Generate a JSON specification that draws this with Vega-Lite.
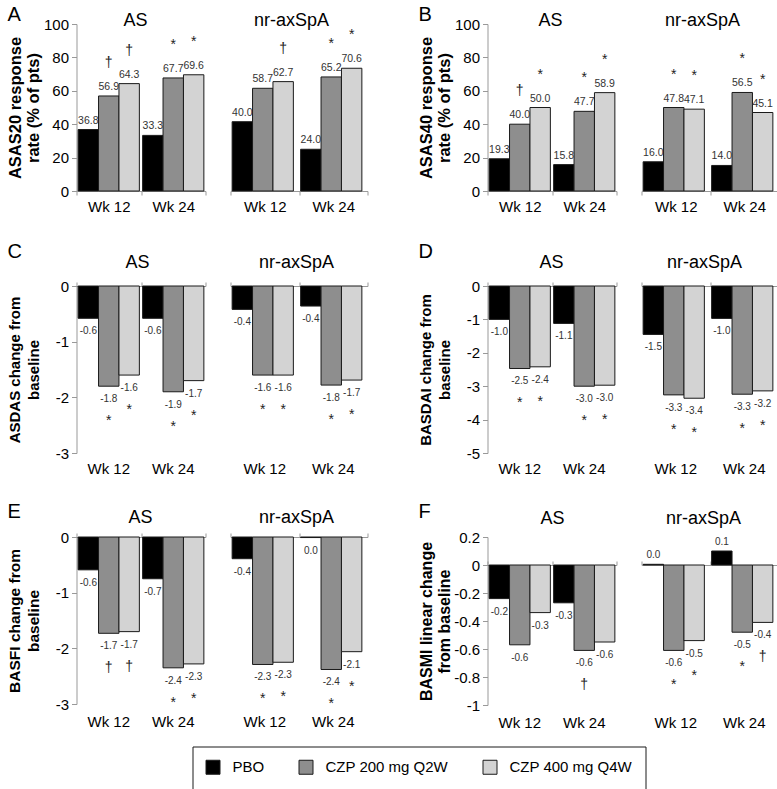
{
"$schema": "https://vega.github.io/schema/vega-lite/v6.json",
"padding": {"left": 7.5, "top": 4, "right": 0, "bottom": 0},
"config": {"font": "Liberation Sans", "view": {"stroke": null}, "axis": {"grid": false}},
"datasets": {"d": [
{"p":"A","g":"AS","w":"Wk 12","t":"PBO","v":36.8,"l":"36.8","s":""},
{"p":"A","g":"AS","w":"Wk 12","t":"CZP 200 mg Q2W","v":56.9,"l":"56.9","s":"\u2020"},
{"p":"A","g":"AS","w":"Wk 12","t":"CZP 400 mg Q4W","v":64.3,"l":"64.3","s":"\u2020"},
{"p":"A","g":"AS","w":"Wk 24","t":"PBO","v":33.3,"l":"33.3","s":""},
{"p":"A","g":"AS","w":"Wk 24","t":"CZP 200 mg Q2W","v":67.7,"l":"67.7","s":"*"},
{"p":"A","g":"AS","w":"Wk 24","t":"CZP 400 mg Q4W","v":69.6,"l":"69.6","s":"*"},
{"p":"A","g":"nr","w":"Wk 12","t":"PBO","v":41.5,"l":"40.0","s":""},
{"p":"A","g":"nr","w":"Wk 12","t":"CZP 200 mg Q2W","v":61.5,"l":"58.7","s":""},
{"p":"A","g":"nr","w":"Wk 12","t":"CZP 400 mg Q4W","v":65.5,"l":"62.7","s":"\u2020"},
{"p":"A","g":"nr","w":"Wk 24","t":"PBO","v":25.0,"l":"24.0","s":""},
{"p":"A","g":"nr","w":"Wk 24","t":"CZP 200 mg Q2W","v":68.3,"l":"65.2","s":"*"},
{"p":"A","g":"nr","w":"Wk 24","t":"CZP 400 mg Q4W","v":73.5,"l":"70.6","s":"*"},
{"p":"B","g":"AS","w":"Wk 12","t":"PBO","v":19.3,"l":"19.3","s":""},
{"p":"B","g":"AS","w":"Wk 12","t":"CZP 200 mg Q2W","v":40.0,"l":"40.0","s":"\u2020"},
{"p":"B","g":"AS","w":"Wk 12","t":"CZP 400 mg Q4W","v":50.0,"l":"50.0","s":"*"},
{"p":"B","g":"AS","w":"Wk 24","t":"PBO","v":15.8,"l":"15.8","s":""},
{"p":"B","g":"AS","w":"Wk 24","t":"CZP 200 mg Q2W","v":47.7,"l":"47.7","s":"*"},
{"p":"B","g":"AS","w":"Wk 24","t":"CZP 400 mg Q4W","v":58.9,"l":"58.9","s":"*"},
{"p":"B","g":"nr","w":"Wk 12","t":"PBO","v":17.5,"l":"16.0","s":""},
{"p":"B","g":"nr","w":"Wk 12","t":"CZP 200 mg Q2W","v":50.0,"l":"47.8","s":"*"},
{"p":"B","g":"nr","w":"Wk 12","t":"CZP 400 mg Q4W","v":49.0,"l":"47.1","s":"*"},
{"p":"B","g":"nr","w":"Wk 24","t":"PBO","v":15.3,"l":"14.0","s":""},
{"p":"B","g":"nr","w":"Wk 24","t":"CZP 200 mg Q2W","v":59.0,"l":"56.5","s":"*"},
{"p":"B","g":"nr","w":"Wk 24","t":"CZP 400 mg Q4W","v":47.0,"l":"45.1","s":"*"},
{"p":"C","g":"AS","w":"Wk 12","t":"PBO","v":-0.58,"l":"-0.6","s":""},
{"p":"C","g":"AS","w":"Wk 12","t":"CZP 200 mg Q2W","v":-1.8,"l":"-1.8","s":"*"},
{"p":"C","g":"AS","w":"Wk 12","t":"CZP 400 mg Q4W","v":-1.6,"l":"-1.6","s":"*"},
{"p":"C","g":"AS","w":"Wk 24","t":"PBO","v":-0.58,"l":"-0.6","s":""},
{"p":"C","g":"AS","w":"Wk 24","t":"CZP 200 mg Q2W","v":-1.9,"l":"-1.9","s":"*"},
{"p":"C","g":"AS","w":"Wk 24","t":"CZP 400 mg Q4W","v":-1.7,"l":"-1.7","s":"*"},
{"p":"C","g":"nr","w":"Wk 12","t":"PBO","v":-0.42,"l":"-0.4","s":""},
{"p":"C","g":"nr","w":"Wk 12","t":"CZP 200 mg Q2W","v":-1.6,"l":"-1.6","s":"*"},
{"p":"C","g":"nr","w":"Wk 12","t":"CZP 400 mg Q4W","v":-1.6,"l":"-1.6","s":"*"},
{"p":"C","g":"nr","w":"Wk 24","t":"PBO","v":-0.36,"l":"-0.4","s":""},
{"p":"C","g":"nr","w":"Wk 24","t":"CZP 200 mg Q2W","v":-1.78,"l":"-1.8","s":"*"},
{"p":"C","g":"nr","w":"Wk 24","t":"CZP 400 mg Q4W","v":-1.69,"l":"-1.7","s":"*"},
{"p":"D","g":"AS","w":"Wk 12","t":"PBO","v":-1.0,"l":"-1.0","s":""},
{"p":"D","g":"AS","w":"Wk 12","t":"CZP 200 mg Q2W","v":-2.47,"l":"-2.5","s":"*"},
{"p":"D","g":"AS","w":"Wk 12","t":"CZP 400 mg Q4W","v":-2.42,"l":"-2.4","s":"*"},
{"p":"D","g":"AS","w":"Wk 24","t":"PBO","v":-1.12,"l":"-1.1","s":""},
{"p":"D","g":"AS","w":"Wk 24","t":"CZP 200 mg Q2W","v":-3.0,"l":"-3.0","s":"*"},
{"p":"D","g":"AS","w":"Wk 24","t":"CZP 400 mg Q4W","v":-2.97,"l":"-3.0","s":"*"},
{"p":"D","g":"nr","w":"Wk 12","t":"PBO","v":-1.45,"l":"-1.5","s":""},
{"p":"D","g":"nr","w":"Wk 12","t":"CZP 200 mg Q2W","v":-3.26,"l":"-3.3","s":"*"},
{"p":"D","g":"nr","w":"Wk 12","t":"CZP 400 mg Q4W","v":-3.36,"l":"-3.4","s":"*"},
{"p":"D","g":"nr","w":"Wk 24","t":"PBO","v":-0.97,"l":"-1.0","s":""},
{"p":"D","g":"nr","w":"Wk 24","t":"CZP 200 mg Q2W","v":-3.24,"l":"-3.3","s":"*"},
{"p":"D","g":"nr","w":"Wk 24","t":"CZP 400 mg Q4W","v":-3.14,"l":"-3.2","s":"*"},
{"p":"E","g":"AS","w":"Wk 12","t":"PBO","v":-0.59,"l":"-0.6","s":""},
{"p":"E","g":"AS","w":"Wk 12","t":"CZP 200 mg Q2W","v":-1.73,"l":"-1.7","s":"\u2020"},
{"p":"E","g":"AS","w":"Wk 12","t":"CZP 400 mg Q4W","v":-1.7,"l":"-1.7","s":"\u2020"},
{"p":"E","g":"AS","w":"Wk 24","t":"PBO","v":-0.75,"l":"-0.7","s":""},
{"p":"E","g":"AS","w":"Wk 24","t":"CZP 200 mg Q2W","v":-2.35,"l":"-2.4","s":"*"},
{"p":"E","g":"AS","w":"Wk 24","t":"CZP 400 mg Q4W","v":-2.28,"l":"-2.3","s":"*"},
{"p":"E","g":"nr","w":"Wk 12","t":"PBO","v":-0.39,"l":"-0.4","s":""},
{"p":"E","g":"nr","w":"Wk 12","t":"CZP 200 mg Q2W","v":-2.29,"l":"-2.3","s":"*"},
{"p":"E","g":"nr","w":"Wk 12","t":"CZP 400 mg Q4W","v":-2.25,"l":"-2.3","s":"*"},
{"p":"E","g":"nr","w":"Wk 24","t":"PBO","v":-0.01,"l":"0.0","s":""},
{"p":"E","g":"nr","w":"Wk 24","t":"CZP 200 mg Q2W","v":-2.38,"l":"-2.4","s":"*"},
{"p":"E","g":"nr","w":"Wk 24","t":"CZP 400 mg Q4W","v":-2.06,"l":"-2.1","s":"*"},
{"p":"F","g":"AS","w":"Wk 12","t":"PBO","v":-0.24,"l":"-0.2","s":""},
{"p":"F","g":"AS","w":"Wk 12","t":"CZP 200 mg Q2W","v":-0.57,"l":"-0.6","s":""},
{"p":"F","g":"AS","w":"Wk 12","t":"CZP 400 mg Q4W","v":-0.34,"l":"-0.3","s":""},
{"p":"F","g":"AS","w":"Wk 24","t":"PBO","v":-0.27,"l":"-0.3","s":""},
{"p":"F","g":"AS","w":"Wk 24","t":"CZP 200 mg Q2W","v":-0.61,"l":"-0.6","s":"\u2020"},
{"p":"F","g":"AS","w":"Wk 24","t":"CZP 400 mg Q4W","v":-0.55,"l":"-0.6","s":""},
{"p":"F","g":"nr","w":"Wk 12","t":"PBO","v":0.005,"l":"0.0","s":""},
{"p":"F","g":"nr","w":"Wk 12","t":"CZP 200 mg Q2W","v":-0.61,"l":"-0.6","s":"*"},
{"p":"F","g":"nr","w":"Wk 12","t":"CZP 400 mg Q4W","v":-0.54,"l":"-0.5","s":"*"},
{"p":"F","g":"nr","w":"Wk 24","t":"PBO","v":0.1,"l":"0.1","s":""},
{"p":"F","g":"nr","w":"Wk 24","t":"CZP 200 mg Q2W","v":-0.48,"l":"-0.5","s":"*"},
{"p":"F","g":"nr","w":"Wk 24","t":"CZP 400 mg Q4W","v":-0.41,"l":"-0.4","s":"\u2020"}
]},
"data": {"name": "d"},
"spacing": 19,
"vconcat": [
{"spacing": 50, "hconcat": [
 {"spacing": 23, "hconcat": [
  {"width": 129, "height": 167,
   "title": {"text": "A", "anchor": "start", "frame": "bounds", "baseline": "alphabetic", "offset": -29, "fontSize": 20, "fontWeight": "normal"},
   "transform": [{"filter": "datum.p=='A' && datum.g=='AS'"}],
   "encoding": {
    "xOffset": {"field": "t", "type": "nominal", "sort": ["PBO","CZP 200 mg Q2W","CZP 400 mg Q4W"], "scale": {"paddingInner": 0, "paddingOuter": 0.08}},
    "y": {"field": "v", "type": "quantitative", "scale": {"domain": [0, 100], "nice": false}, "axis": {"title": ["ASAS20 response", "rate (% of pts)"], "values": [0,20,40,60,80,100], "tickSize": 5, "labelPadding": 3, "labelFontSize": 15, "labelColor": "#000", "domainColor": "#999", "tickColor": "#999", "minExtent": 34, "titlePadding": 1, "titleFontSize": 16.5, "titleFontWeight": "bold", "titleLineHeight": 18, "titleColor": "#000"}}
   },
   "layer": [
    {"mark": {"type": "bar", "stroke": "#1a1a1a", "strokeWidth": 1}, "encoding": {"x": {"field": "w", "type": "nominal", "sort": ["Wk 12","Wk 24"], "scale": {"paddingInner": 0, "paddingOuter": 0}, "axis": {"orient": "bottom", "title": null, "labelAngle": 0, "tickBand": "extent", "tickSize": 4, "labelPadding": 4.5, "minExtent": 30.5, "domainColor": "#999", "tickColor": "#999", "labelFontSize": 15, "labelColor": "#000"}}, "fill": {"field": "t", "type": "nominal", "sort": ["PBO","CZP 200 mg Q2W","CZP 400 mg Q4W"], "scale": {"domain": ["PBO","CZP 200 mg Q2W","CZP 400 mg Q4W"], "range": ["#000000","#8e8e8e","#d3d3d3"]}, "legend": {"orient": "none", "legendX": 116, "legendY": 722.5, "direction": "horizontal", "title": null, "symbolType": "square", "symbolSize": 196, "symbolStrokeColor": "#1a1a1a", "symbolStrokeWidth": 1, "symbolOpacity": 1, "labelFontSize": 15, "labelOffset": 12, "columnPadding": 32, "padding": 13, "strokeColor": "#1a1a1a", "fillColor": "#ffffff", "labelColor": "#000"}}}},
    {"transform": [{"filter": "datum.v >= 0"}], "mark": {"type": "text", "baseline": "alphabetic", "dy": -6, "fontSize": 10.5, "color": "#333"}, "encoding": {"x": {"field": "w", "type": "nominal", "sort": ["Wk 12","Wk 24"], "axis": {"orient": "top", "title": "AS", "labels": false, "ticks": false, "domain": false, "titleFontSize": 18, "titleFontWeight": "normal", "titleColor": "#000", "titleBaseline": "alphabetic", "titleX": 58.5, "titleY": 1.5}}, "text": {"field": "l", "type": "nominal"}}},
    {"transform": [{"filter": "datum.v >= 0 && datum.s != ''"}], "mark": {"type": "text", "baseline": "middle", "dy": -33, "fontSize": 14, "color": "#222"}, "encoding": {"x": {"field": "w", "type": "nominal", "sort": ["Wk 12","Wk 24"], "axis": null}, "text": {"field": "s", "type": "nominal"}}}
   ],
   "resolve": {"axis": {"x": "independent"}}
  },
  {"width": 137, "height": 167,
   "transform": [{"filter": "datum.p=='A' && datum.g=='nr'"}],
   "encoding": {
    "xOffset": {"field": "t", "type": "nominal", "sort": ["PBO","CZP 200 mg Q2W","CZP 400 mg Q4W"], "scale": {"paddingInner": 0, "paddingOuter": 0.12}},
    "y": {"field": "v", "type": "quantitative", "scale": {"domain": [0, 100], "nice": false}, "axis": null}
   },
   "layer": [
    {"mark": {"type": "bar", "stroke": "#1a1a1a", "strokeWidth": 1}, "encoding": {"x": {"field": "w", "type": "nominal", "sort": ["Wk 12","Wk 24"], "scale": {"paddingInner": 0, "paddingOuter": 0}, "axis": {"orient": "bottom", "title": null, "labelAngle": 0, "tickBand": "extent", "tickSize": 4, "labelPadding": 4.5, "minExtent": 30.5, "domainColor": "#999", "tickColor": "#999", "labelFontSize": 15, "labelColor": "#000"}}, "fill": {"field": "t", "type": "nominal", "sort": ["PBO","CZP 200 mg Q2W","CZP 400 mg Q4W"], "scale": {"domain": ["PBO","CZP 200 mg Q2W","CZP 400 mg Q4W"], "range": ["#000000","#8e8e8e","#d3d3d3"]}, "legend": {"orient": "none", "legendX": 116, "legendY": 722.5, "direction": "horizontal", "title": null, "symbolType": "square", "symbolSize": 196, "symbolStrokeColor": "#1a1a1a", "symbolStrokeWidth": 1, "symbolOpacity": 1, "labelFontSize": 15, "labelOffset": 12, "columnPadding": 32, "padding": 13, "strokeColor": "#1a1a1a", "fillColor": "#ffffff", "labelColor": "#000"}}}},
    {"transform": [{"filter": "datum.v >= 0"}], "mark": {"type": "text", "baseline": "alphabetic", "dy": -6, "fontSize": 10.5, "color": "#333"}, "encoding": {"x": {"field": "w", "type": "nominal", "sort": ["Wk 12","Wk 24"], "axis": {"orient": "top", "title": "nr-axSpA", "labels": false, "ticks": false, "domain": false, "titleFontSize": 18, "titleFontWeight": "normal", "titleColor": "#000", "titleBaseline": "alphabetic", "titleX": 60.5, "titleY": 1.5}}, "text": {"field": "l", "type": "nominal"}}},
    {"transform": [{"filter": "datum.v >= 0 && datum.s != ''"}], "mark": {"type": "text", "baseline": "middle", "dy": -33, "fontSize": 14, "color": "#222"}, "encoding": {"x": {"field": "w", "type": "nominal", "sort": ["Wk 12","Wk 24"], "axis": null}, "text": {"field": "s", "type": "nominal"}}}
   ],
   "resolve": {"axis": {"x": "independent"}}
  }
 ]},
 {"spacing": 23, "hconcat": [
  {"width": 129, "height": 167,
   "title": {"text": "B", "anchor": "start", "frame": "bounds", "baseline": "alphabetic", "offset": -29, "fontSize": 20, "fontWeight": "normal"},
   "transform": [{"filter": "datum.p=='B' && datum.g=='AS'"}],
   "encoding": {
    "xOffset": {"field": "t", "type": "nominal", "sort": ["PBO","CZP 200 mg Q2W","CZP 400 mg Q4W"], "scale": {"paddingInner": 0, "paddingOuter": 0.08}},
    "y": {"field": "v", "type": "quantitative", "scale": {"domain": [0, 100], "nice": false}, "axis": {"title": ["ASAS40 response", "rate (% of pts)"], "values": [0,20,40,60,80,100], "tickSize": 5, "labelPadding": 3, "labelFontSize": 15, "labelColor": "#000", "domainColor": "#999", "tickColor": "#999", "minExtent": 34, "titlePadding": 1, "titleFontSize": 16.5, "titleFontWeight": "bold", "titleLineHeight": 18, "titleColor": "#000"}}
   },
   "layer": [
    {"mark": {"type": "bar", "stroke": "#1a1a1a", "strokeWidth": 1}, "encoding": {"x": {"field": "w", "type": "nominal", "sort": ["Wk 12","Wk 24"], "scale": {"paddingInner": 0, "paddingOuter": 0}, "axis": {"orient": "bottom", "title": null, "labelAngle": 0, "tickBand": "extent", "tickSize": 4, "labelPadding": 4.5, "minExtent": 30.5, "domainColor": "#999", "tickColor": "#999", "labelFontSize": 15, "labelColor": "#000"}}, "fill": {"field": "t", "type": "nominal", "sort": ["PBO","CZP 200 mg Q2W","CZP 400 mg Q4W"], "scale": {"domain": ["PBO","CZP 200 mg Q2W","CZP 400 mg Q4W"], "range": ["#000000","#8e8e8e","#d3d3d3"]}, "legend": {"orient": "none", "legendX": 116, "legendY": 722.5, "direction": "horizontal", "title": null, "symbolType": "square", "symbolSize": 196, "symbolStrokeColor": "#1a1a1a", "symbolStrokeWidth": 1, "symbolOpacity": 1, "labelFontSize": 15, "labelOffset": 12, "columnPadding": 32, "padding": 13, "strokeColor": "#1a1a1a", "fillColor": "#ffffff", "labelColor": "#000"}}}},
    {"transform": [{"filter": "datum.v >= 0"}], "mark": {"type": "text", "baseline": "alphabetic", "dy": -6, "fontSize": 10.5, "color": "#333"}, "encoding": {"x": {"field": "w", "type": "nominal", "sort": ["Wk 12","Wk 24"], "axis": {"orient": "top", "title": "AS", "labels": false, "ticks": false, "domain": false, "titleFontSize": 18, "titleFontWeight": "normal", "titleColor": "#000", "titleBaseline": "alphabetic", "titleX": 62.5, "titleY": 1.5}}, "text": {"field": "l", "type": "nominal"}}},
    {"transform": [{"filter": "datum.v >= 0 && datum.s != ''"}], "mark": {"type": "text", "baseline": "middle", "dy": -33, "fontSize": 14, "color": "#222"}, "encoding": {"x": {"field": "w", "type": "nominal", "sort": ["Wk 12","Wk 24"], "axis": null}, "text": {"field": "s", "type": "nominal"}}}
   ],
   "resolve": {"axis": {"x": "independent"}}
  },
  {"width": 137, "height": 167,
   "transform": [{"filter": "datum.p=='B' && datum.g=='nr'"}],
   "encoding": {
    "xOffset": {"field": "t", "type": "nominal", "sort": ["PBO","CZP 200 mg Q2W","CZP 400 mg Q4W"], "scale": {"paddingInner": 0, "paddingOuter": 0.12}},
    "y": {"field": "v", "type": "quantitative", "scale": {"domain": [0, 100], "nice": false}, "axis": null}
   },
   "layer": [
    {"mark": {"type": "bar", "stroke": "#1a1a1a", "strokeWidth": 1}, "encoding": {"x": {"field": "w", "type": "nominal", "sort": ["Wk 12","Wk 24"], "scale": {"paddingInner": 0, "paddingOuter": 0}, "axis": {"orient": "bottom", "title": null, "labelAngle": 0, "tickBand": "extent", "tickSize": 4, "labelPadding": 4.5, "minExtent": 30.5, "domainColor": "#999", "tickColor": "#999", "labelFontSize": 15, "labelColor": "#000"}}, "fill": {"field": "t", "type": "nominal", "sort": ["PBO","CZP 200 mg Q2W","CZP 400 mg Q4W"], "scale": {"domain": ["PBO","CZP 200 mg Q2W","CZP 400 mg Q4W"], "range": ["#000000","#8e8e8e","#d3d3d3"]}, "legend": {"orient": "none", "legendX": 116, "legendY": 722.5, "direction": "horizontal", "title": null, "symbolType": "square", "symbolSize": 196, "symbolStrokeColor": "#1a1a1a", "symbolStrokeWidth": 1, "symbolOpacity": 1, "labelFontSize": 15, "labelOffset": 12, "columnPadding": 32, "padding": 13, "strokeColor": "#1a1a1a", "fillColor": "#ffffff", "labelColor": "#000"}}}},
    {"transform": [{"filter": "datum.v >= 0"}], "mark": {"type": "text", "baseline": "alphabetic", "dy": -6, "fontSize": 10.5, "color": "#333"}, "encoding": {"x": {"field": "w", "type": "nominal", "sort": ["Wk 12","Wk 24"], "axis": {"orient": "top", "title": "nr-axSpA", "labels": false, "ticks": false, "domain": false, "titleFontSize": 18, "titleFontWeight": "normal", "titleColor": "#000", "titleBaseline": "alphabetic", "titleX": 60.5, "titleY": 1.5}}, "text": {"field": "l", "type": "nominal"}}},
    {"transform": [{"filter": "datum.v >= 0 && datum.s != ''"}], "mark": {"type": "text", "baseline": "middle", "dy": -33, "fontSize": 14, "color": "#222"}, "encoding": {"x": {"field": "w", "type": "nominal", "sort": ["Wk 12","Wk 24"], "axis": null}, "text": {"field": "s", "type": "nominal"}}}
   ],
   "resolve": {"axis": {"x": "independent"}}
  }
 ]}
]},
{"spacing": 50, "hconcat": [
 {"spacing": 23, "hconcat": [
  {"width": 129, "height": 167,
   "title": {"text": "C", "anchor": "start", "frame": "bounds", "baseline": "alphabetic", "offset": -24, "fontSize": 20, "fontWeight": "normal"},
   "transform": [{"filter": "datum.p=='C' && datum.g=='AS'"}],
   "encoding": {
    "xOffset": {"field": "t", "type": "nominal", "sort": ["PBO","CZP 200 mg Q2W","CZP 400 mg Q4W"], "scale": {"paddingInner": 0, "paddingOuter": 0.08}},
    "y": {"field": "v", "type": "quantitative", "scale": {"domain": [-3, 0], "nice": false}, "axis": {"title": ["ASDAS change from", "baseline"], "values": [0,-1,-2,-3], "labelExpr": "datum.value == 0 ? '0' : (datum.value < 0 ? '-' : '') + format(abs(datum.value), '~g')", "tickSize": 5, "labelPadding": 3, "labelFontSize": 15, "labelColor": "#000", "domainColor": "#999", "tickColor": "#999", "minExtent": 34, "titlePadding": 1, "titleFontSize": 15, "titleFontWeight": "bold", "titleLineHeight": 19, "titleColor": "#000"}}
   },
   "layer": [
    {"mark": {"type": "bar", "stroke": "#1a1a1a", "strokeWidth": 1}, "encoding": {"x": {"field": "w", "type": "nominal", "sort": ["Wk 12","Wk 24"], "scale": {"paddingInner": 0, "paddingOuter": 0}, "axis": {"orient": "top", "title": "AS", "labels": false, "tickBand": "extent", "tickSize": 4, "domainColor": "#999", "tickColor": "#999", "titleFontSize": 18, "titleFontWeight": "normal", "titleColor": "#000", "titleBaseline": "alphabetic", "titleX": 60.5, "titleY": -18.5}}, "fill": {"field": "t", "type": "nominal", "sort": ["PBO","CZP 200 mg Q2W","CZP 400 mg Q4W"], "scale": {"domain": ["PBO","CZP 200 mg Q2W","CZP 400 mg Q4W"], "range": ["#000000","#8e8e8e","#d3d3d3"]}, "legend": {"orient": "none", "legendX": 116, "legendY": 722.5, "direction": "horizontal", "title": null, "symbolType": "square", "symbolSize": 196, "symbolStrokeColor": "#1a1a1a", "symbolStrokeWidth": 1, "symbolOpacity": 1, "labelFontSize": 15, "labelOffset": 12, "columnPadding": 32, "padding": 13, "strokeColor": "#1a1a1a", "fillColor": "#ffffff", "labelColor": "#000"}}}},
    {"transform": [{"filter": "datum.v < 0"}], "mark": {"type": "text", "baseline": "top", "dy": 8, "fontSize": 10, "color": "#333"}, "encoding": {"x": {"field": "w", "type": "nominal", "sort": ["Wk 12","Wk 24"], "axis": {"orient": "bottom", "title": null, "labelAngle": 0, "domain": false, "ticks": false, "tickSize": 0, "labelPadding": 8.5, "minExtent": 30, "labelFontSize": 15, "labelColor": "#000"}}, "text": {"field": "l", "type": "nominal"}}},
    {"transform": [{"filter": "datum.v < 0 && datum.s != ''"}], "mark": {"type": "text", "baseline": "middle", "dy": 35, "fontSize": 14, "color": "#222"}, "encoding": {"x": {"field": "w", "type": "nominal", "sort": ["Wk 12","Wk 24"], "axis": null}, "text": {"field": "s", "type": "nominal"}}}
   ],
   "resolve": {"axis": {"x": "independent"}}
  },
  {"width": 137, "height": 167,
   "transform": [{"filter": "datum.p=='C' && datum.g=='nr'"}],
   "encoding": {
    "xOffset": {"field": "t", "type": "nominal", "sort": ["PBO","CZP 200 mg Q2W","CZP 400 mg Q4W"], "scale": {"paddingInner": 0, "paddingOuter": 0.12}},
    "y": {"field": "v", "type": "quantitative", "scale": {"domain": [-3, 0], "nice": false}, "axis": null}
   },
   "layer": [
    {"mark": {"type": "bar", "stroke": "#1a1a1a", "strokeWidth": 1}, "encoding": {"x": {"field": "w", "type": "nominal", "sort": ["Wk 12","Wk 24"], "scale": {"paddingInner": 0, "paddingOuter": 0}, "axis": {"orient": "top", "title": "nr-axSpA", "labels": false, "tickBand": "extent", "tickSize": 4, "domainColor": "#999", "tickColor": "#999", "titleFontSize": 18, "titleFontWeight": "normal", "titleColor": "#000", "titleBaseline": "alphabetic", "titleX": 65.5, "titleY": -18.5}}, "fill": {"field": "t", "type": "nominal", "sort": ["PBO","CZP 200 mg Q2W","CZP 400 mg Q4W"], "scale": {"domain": ["PBO","CZP 200 mg Q2W","CZP 400 mg Q4W"], "range": ["#000000","#8e8e8e","#d3d3d3"]}, "legend": {"orient": "none", "legendX": 116, "legendY": 722.5, "direction": "horizontal", "title": null, "symbolType": "square", "symbolSize": 196, "symbolStrokeColor": "#1a1a1a", "symbolStrokeWidth": 1, "symbolOpacity": 1, "labelFontSize": 15, "labelOffset": 12, "columnPadding": 32, "padding": 13, "strokeColor": "#1a1a1a", "fillColor": "#ffffff", "labelColor": "#000"}}}},
    {"transform": [{"filter": "datum.v < 0"}], "mark": {"type": "text", "baseline": "top", "dy": 8, "fontSize": 10, "color": "#333"}, "encoding": {"x": {"field": "w", "type": "nominal", "sort": ["Wk 12","Wk 24"], "axis": {"orient": "bottom", "title": null, "labelAngle": 0, "domain": false, "ticks": false, "tickSize": 0, "labelPadding": 8.5, "minExtent": 30, "labelFontSize": 15, "labelColor": "#000"}}, "text": {"field": "l", "type": "nominal"}}},
    {"transform": [{"filter": "datum.v < 0 && datum.s != ''"}], "mark": {"type": "text", "baseline": "middle", "dy": 35, "fontSize": 14, "color": "#222"}, "encoding": {"x": {"field": "w", "type": "nominal", "sort": ["Wk 12","Wk 24"], "axis": null}, "text": {"field": "s", "type": "nominal"}}}
   ],
   "resolve": {"axis": {"x": "independent"}}
  }
 ]},
 {"spacing": 23, "hconcat": [
  {"width": 129, "height": 167,
   "title": {"text": "D", "anchor": "start", "frame": "bounds", "baseline": "alphabetic", "offset": -24, "fontSize": 20, "fontWeight": "normal"},
   "transform": [{"filter": "datum.p=='D' && datum.g=='AS'"}],
   "encoding": {
    "xOffset": {"field": "t", "type": "nominal", "sort": ["PBO","CZP 200 mg Q2W","CZP 400 mg Q4W"], "scale": {"paddingInner": 0, "paddingOuter": 0.08}},
    "y": {"field": "v", "type": "quantitative", "scale": {"domain": [-5, 0], "nice": false}, "axis": {"title": ["BASDAI change from", "baseline"], "values": [0,-1,-2,-3,-4,-5], "labelExpr": "datum.value == 0 ? '0' : (datum.value < 0 ? '-' : '') + format(abs(datum.value), '~g')", "tickSize": 5, "labelPadding": 3, "labelFontSize": 15, "labelColor": "#000", "domainColor": "#999", "tickColor": "#999", "minExtent": 34, "titlePadding": 1, "titleFontSize": 15, "titleFontWeight": "bold", "titleLineHeight": 19, "titleColor": "#000"}}
   },
   "layer": [
    {"mark": {"type": "bar", "stroke": "#1a1a1a", "strokeWidth": 1}, "encoding": {"x": {"field": "w", "type": "nominal", "sort": ["Wk 12","Wk 24"], "scale": {"paddingInner": 0, "paddingOuter": 0}, "axis": {"orient": "top", "title": "AS", "labels": false, "tickBand": "extent", "tickSize": 4, "domainColor": "#999", "tickColor": "#999", "titleFontSize": 18, "titleFontWeight": "normal", "titleColor": "#000", "titleBaseline": "alphabetic", "titleX": 63.5, "titleY": -18.5}}, "fill": {"field": "t", "type": "nominal", "sort": ["PBO","CZP 200 mg Q2W","CZP 400 mg Q4W"], "scale": {"domain": ["PBO","CZP 200 mg Q2W","CZP 400 mg Q4W"], "range": ["#000000","#8e8e8e","#d3d3d3"]}, "legend": {"orient": "none", "legendX": 116, "legendY": 722.5, "direction": "horizontal", "title": null, "symbolType": "square", "symbolSize": 196, "symbolStrokeColor": "#1a1a1a", "symbolStrokeWidth": 1, "symbolOpacity": 1, "labelFontSize": 15, "labelOffset": 12, "columnPadding": 32, "padding": 13, "strokeColor": "#1a1a1a", "fillColor": "#ffffff", "labelColor": "#000"}}}},
    {"transform": [{"filter": "datum.v < 0"}], "mark": {"type": "text", "baseline": "top", "dy": 8, "fontSize": 10, "color": "#333"}, "encoding": {"x": {"field": "w", "type": "nominal", "sort": ["Wk 12","Wk 24"], "axis": {"orient": "bottom", "title": null, "labelAngle": 0, "domain": false, "ticks": false, "tickSize": 0, "labelPadding": 8.5, "minExtent": 30, "labelFontSize": 15, "labelColor": "#000"}}, "text": {"field": "l", "type": "nominal"}}},
    {"transform": [{"filter": "datum.v < 0 && datum.s != ''"}], "mark": {"type": "text", "baseline": "middle", "dy": 35, "fontSize": 14, "color": "#222"}, "encoding": {"x": {"field": "w", "type": "nominal", "sort": ["Wk 12","Wk 24"], "axis": null}, "text": {"field": "s", "type": "nominal"}}}
   ],
   "resolve": {"axis": {"x": "independent"}}
  },
  {"width": 137, "height": 167,
   "transform": [{"filter": "datum.p=='D' && datum.g=='nr'"}],
   "encoding": {
    "xOffset": {"field": "t", "type": "nominal", "sort": ["PBO","CZP 200 mg Q2W","CZP 400 mg Q4W"], "scale": {"paddingInner": 0, "paddingOuter": 0.12}},
    "y": {"field": "v", "type": "quantitative", "scale": {"domain": [-5, 0], "nice": false}, "axis": null}
   },
   "layer": [
    {"mark": {"type": "bar", "stroke": "#1a1a1a", "strokeWidth": 1}, "encoding": {"x": {"field": "w", "type": "nominal", "sort": ["Wk 12","Wk 24"], "scale": {"paddingInner": 0, "paddingOuter": 0}, "axis": {"orient": "top", "title": "nr-axSpA", "labels": false, "tickBand": "extent", "tickSize": 4, "domainColor": "#999", "tickColor": "#999", "titleFontSize": 18, "titleFontWeight": "normal", "titleColor": "#000", "titleBaseline": "alphabetic", "titleX": 62.5, "titleY": -18.5}}, "fill": {"field": "t", "type": "nominal", "sort": ["PBO","CZP 200 mg Q2W","CZP 400 mg Q4W"], "scale": {"domain": ["PBO","CZP 200 mg Q2W","CZP 400 mg Q4W"], "range": ["#000000","#8e8e8e","#d3d3d3"]}, "legend": {"orient": "none", "legendX": 116, "legendY": 722.5, "direction": "horizontal", "title": null, "symbolType": "square", "symbolSize": 196, "symbolStrokeColor": "#1a1a1a", "symbolStrokeWidth": 1, "symbolOpacity": 1, "labelFontSize": 15, "labelOffset": 12, "columnPadding": 32, "padding": 13, "strokeColor": "#1a1a1a", "fillColor": "#ffffff", "labelColor": "#000"}}}},
    {"transform": [{"filter": "datum.v < 0"}], "mark": {"type": "text", "baseline": "top", "dy": 8, "fontSize": 10, "color": "#333"}, "encoding": {"x": {"field": "w", "type": "nominal", "sort": ["Wk 12","Wk 24"], "axis": {"orient": "bottom", "title": null, "labelAngle": 0, "domain": false, "ticks": false, "tickSize": 0, "labelPadding": 8.5, "minExtent": 30, "labelFontSize": 15, "labelColor": "#000"}}, "text": {"field": "l", "type": "nominal"}}},
    {"transform": [{"filter": "datum.v < 0 && datum.s != ''"}], "mark": {"type": "text", "baseline": "middle", "dy": 35, "fontSize": 14, "color": "#222"}, "encoding": {"x": {"field": "w", "type": "nominal", "sort": ["Wk 12","Wk 24"], "axis": null}, "text": {"field": "s", "type": "nominal"}}}
   ],
   "resolve": {"axis": {"x": "independent"}}
  }
 ]}
]},
{"spacing": 50, "hconcat": [
 {"spacing": 23, "hconcat": [
  {"width": 129, "height": 167,
   "title": {"text": "E", "anchor": "start", "frame": "bounds", "baseline": "alphabetic", "offset": -30, "fontSize": 20, "fontWeight": "normal"},
   "transform": [{"filter": "datum.p=='E' && datum.g=='AS'"}],
   "encoding": {
    "xOffset": {"field": "t", "type": "nominal", "sort": ["PBO","CZP 200 mg Q2W","CZP 400 mg Q4W"], "scale": {"paddingInner": 0, "paddingOuter": 0.08}},
    "y": {"field": "v", "type": "quantitative", "scale": {"domain": [-3, 0], "nice": false}, "axis": {"title": ["BASFI change from", "baseline"], "values": [0,-1,-2,-3], "labelExpr": "datum.value == 0 ? '0' : (datum.value < 0 ? '-' : '') + format(abs(datum.value), '~g')", "tickSize": 5, "labelPadding": 3, "labelFontSize": 15, "labelColor": "#000", "domainColor": "#999", "tickColor": "#999", "minExtent": 34, "titlePadding": 1, "titleFontSize": 15.5, "titleFontWeight": "bold", "titleLineHeight": 19, "titleColor": "#000"}}
   },
   "layer": [
    {"mark": {"type": "bar", "stroke": "#1a1a1a", "strokeWidth": 1}, "encoding": {"x": {"field": "w", "type": "nominal", "sort": ["Wk 12","Wk 24"], "scale": {"paddingInner": 0, "paddingOuter": 0}, "axis": {"orient": "top", "title": "AS", "labels": false, "tickBand": "extent", "tickSize": 4, "domainColor": "#999", "tickColor": "#999", "titleFontSize": 18, "titleFontWeight": "normal", "titleColor": "#000", "titleBaseline": "alphabetic", "titleX": 63.5, "titleY": -15}}, "fill": {"field": "t", "type": "nominal", "sort": ["PBO","CZP 200 mg Q2W","CZP 400 mg Q4W"], "scale": {"domain": ["PBO","CZP 200 mg Q2W","CZP 400 mg Q4W"], "range": ["#000000","#8e8e8e","#d3d3d3"]}, "legend": {"orient": "none", "legendX": 116, "legendY": 722.5, "direction": "horizontal", "title": null, "symbolType": "square", "symbolSize": 196, "symbolStrokeColor": "#1a1a1a", "symbolStrokeWidth": 1, "symbolOpacity": 1, "labelFontSize": 15, "labelOffset": 12, "columnPadding": 32, "padding": 13, "strokeColor": "#1a1a1a", "fillColor": "#ffffff", "labelColor": "#000"}}}},
    {"transform": [{"filter": "datum.v < 0"}], "mark": {"type": "text", "baseline": "top", "dy": 8, "fontSize": 10, "color": "#333"}, "encoding": {"x": {"field": "w", "type": "nominal", "sort": ["Wk 12","Wk 24"], "axis": {"orient": "bottom", "title": null, "labelAngle": 0, "domain": false, "ticks": false, "tickSize": 0, "labelPadding": 10, "labelFontSize": 15, "labelColor": "#000"}}, "text": {"field": "l", "type": "nominal"}}},
    {"transform": [{"filter": "datum.v < 0 && datum.s != ''"}], "mark": {"type": "text", "baseline": "middle", "dy": 35, "fontSize": 14, "color": "#222"}, "encoding": {"x": {"field": "w", "type": "nominal", "sort": ["Wk 12","Wk 24"], "axis": null}, "text": {"field": "s", "type": "nominal"}}}
   ],
   "resolve": {"axis": {"x": "independent"}}
  },
  {"width": 137, "height": 167,
   "transform": [{"filter": "datum.p=='E' && datum.g=='nr'"}],
   "encoding": {
    "xOffset": {"field": "t", "type": "nominal", "sort": ["PBO","CZP 200 mg Q2W","CZP 400 mg Q4W"], "scale": {"paddingInner": 0, "paddingOuter": 0.12}},
    "y": {"field": "v", "type": "quantitative", "scale": {"domain": [-3, 0], "nice": false}, "axis": null}
   },
   "layer": [
    {"mark": {"type": "bar", "stroke": "#1a1a1a", "strokeWidth": 1}, "encoding": {"x": {"field": "w", "type": "nominal", "sort": ["Wk 12","Wk 24"], "scale": {"paddingInner": 0, "paddingOuter": 0}, "axis": {"orient": "top", "title": "nr-axSpA", "labels": false, "tickBand": "extent", "tickSize": 4, "domainColor": "#999", "tickColor": "#999", "titleFontSize": 18, "titleFontWeight": "normal", "titleColor": "#000", "titleBaseline": "alphabetic", "titleX": 65.5, "titleY": -15}}, "fill": {"field": "t", "type": "nominal", "sort": ["PBO","CZP 200 mg Q2W","CZP 400 mg Q4W"], "scale": {"domain": ["PBO","CZP 200 mg Q2W","CZP 400 mg Q4W"], "range": ["#000000","#8e8e8e","#d3d3d3"]}, "legend": {"orient": "none", "legendX": 116, "legendY": 722.5, "direction": "horizontal", "title": null, "symbolType": "square", "symbolSize": 196, "symbolStrokeColor": "#1a1a1a", "symbolStrokeWidth": 1, "symbolOpacity": 1, "labelFontSize": 15, "labelOffset": 12, "columnPadding": 32, "padding": 13, "strokeColor": "#1a1a1a", "fillColor": "#ffffff", "labelColor": "#000"}}}},
    {"transform": [{"filter": "datum.v < 0"}], "mark": {"type": "text", "baseline": "top", "dy": 8, "fontSize": 10, "color": "#333"}, "encoding": {"x": {"field": "w", "type": "nominal", "sort": ["Wk 12","Wk 24"], "axis": {"orient": "bottom", "title": null, "labelAngle": 0, "domain": false, "ticks": false, "tickSize": 0, "labelPadding": 10, "labelFontSize": 15, "labelColor": "#000"}}, "text": {"field": "l", "type": "nominal"}}},
    {"transform": [{"filter": "datum.v < 0 && datum.s != ''"}], "mark": {"type": "text", "baseline": "middle", "dy": 35, "fontSize": 14, "color": "#222"}, "encoding": {"x": {"field": "w", "type": "nominal", "sort": ["Wk 12","Wk 24"], "axis": null}, "text": {"field": "s", "type": "nominal"}}}
   ],
   "resolve": {"axis": {"x": "independent"}}
  }
 ]},
 {"spacing": 23, "hconcat": [
  {"width": 129, "height": 168,
   "title": {"text": "F", "anchor": "start", "frame": "bounds", "baseline": "alphabetic", "offset": -29, "fontSize": 20, "fontWeight": "normal"},
   "transform": [{"filter": "datum.p=='F' && datum.g=='AS'"}],
   "encoding": {
    "xOffset": {"field": "t", "type": "nominal", "sort": ["PBO","CZP 200 mg Q2W","CZP 400 mg Q4W"], "scale": {"paddingInner": 0, "paddingOuter": 0.08}},
    "y": {"field": "v", "type": "quantitative", "scale": {"domain": [-1, 0.2], "nice": false, "zero": false}, "axis": {"title": ["BASMI linear change", "from baseline"], "values": [0.2,0,-0.2,-0.4,-0.6,-0.8,-1], "labelExpr": "datum.value == 0 ? '0' : (datum.value < 0 ? '-' : '') + format(abs(datum.value), '~g')", "tickSize": 5, "labelPadding": 3, "labelFontSize": 15, "labelColor": "#000", "domainColor": "#999", "tickColor": "#999", "minExtent": 34, "titlePadding": 1, "titleFontSize": 16, "titleFontWeight": "bold", "titleLineHeight": 18, "titleColor": "#000"}}
   },
   "layer": [
    {"mark": {"type": "bar", "stroke": "#1a1a1a", "strokeWidth": 1}, "encoding": {"x": {"field": "w", "type": "nominal", "sort": ["Wk 12","Wk 24"], "scale": {"paddingInner": 0, "paddingOuter": 0}, "axis": {"orient": "top", "offset": -28, "title": "AS", "labels": false, "tickBand": "extent", "tickSize": 4, "domainColor": "#999", "tickColor": "#999", "titleFontSize": 18, "titleFontWeight": "normal", "titleColor": "#000", "titleBaseline": "alphabetic", "titleX": 64.5, "titleY": -42}}, "fill": {"field": "t", "type": "nominal", "sort": ["PBO","CZP 200 mg Q2W","CZP 400 mg Q4W"], "scale": {"domain": ["PBO","CZP 200 mg Q2W","CZP 400 mg Q4W"], "range": ["#000000","#8e8e8e","#d3d3d3"]}, "legend": {"orient": "none", "legendX": 116, "legendY": 722.5, "direction": "horizontal", "title": null, "symbolType": "square", "symbolSize": 196, "symbolStrokeColor": "#1a1a1a", "symbolStrokeWidth": 1, "symbolOpacity": 1, "labelFontSize": 15, "labelOffset": 12, "columnPadding": 32, "padding": 13, "strokeColor": "#1a1a1a", "fillColor": "#ffffff", "labelColor": "#000"}}}},
    {"transform": [{"filter": "datum.v >= 0"}], "mark": {"type": "text", "baseline": "alphabetic", "dy": -6, "fontSize": 10, "color": "#333"}, "encoding": {"x": {"field": "w", "type": "nominal", "sort": ["Wk 12","Wk 24"], "axis": null}, "text": {"field": "l", "type": "nominal"}}},
    {"transform": [{"filter": "datum.v < 0"}], "mark": {"type": "text", "baseline": "top", "dy": 8, "fontSize": 10, "color": "#333"}, "encoding": {"x": {"field": "w", "type": "nominal", "sort": ["Wk 12","Wk 24"], "axis": {"orient": "bottom", "title": null, "labelAngle": 0, "domain": false, "ticks": false, "tickSize": 0, "labelPadding": 10, "labelFontSize": 15, "labelColor": "#000"}}, "text": {"field": "l", "type": "nominal"}}},
    {"transform": [{"filter": "datum.v < 0 && datum.s != ''"}], "mark": {"type": "text", "baseline": "middle", "dy": 35, "fontSize": 14, "color": "#222"}, "encoding": {"x": {"field": "w", "type": "nominal", "sort": ["Wk 12","Wk 24"], "axis": null}, "text": {"field": "s", "type": "nominal"}}}
   ],
   "resolve": {"axis": {"x": "independent"}}
  },
  {"width": 137, "height": 168,
   "transform": [{"filter": "datum.p=='F' && datum.g=='nr'"}],
   "encoding": {
    "xOffset": {"field": "t", "type": "nominal", "sort": ["PBO","CZP 200 mg Q2W","CZP 400 mg Q4W"], "scale": {"paddingInner": 0, "paddingOuter": 0.12}},
    "y": {"field": "v", "type": "quantitative", "scale": {"domain": [-1, 0.2], "nice": false, "zero": false}, "axis": null}
   },
   "layer": [
    {"mark": {"type": "bar", "stroke": "#1a1a1a", "strokeWidth": 1}, "encoding": {"x": {"field": "w", "type": "nominal", "sort": ["Wk 12","Wk 24"], "scale": {"paddingInner": 0, "paddingOuter": 0}, "axis": {"orient": "top", "offset": -28, "title": "nr-axSpA", "labels": false, "tickBand": "extent", "tickSize": 4, "domainColor": "#999", "tickColor": "#999", "titleFontSize": 18, "titleFontWeight": "normal", "titleColor": "#000", "titleBaseline": "alphabetic", "titleX": 61.5, "titleY": -42}}, "fill": {"field": "t", "type": "nominal", "sort": ["PBO","CZP 200 mg Q2W","CZP 400 mg Q4W"], "scale": {"domain": ["PBO","CZP 200 mg Q2W","CZP 400 mg Q4W"], "range": ["#000000","#8e8e8e","#d3d3d3"]}, "legend": {"orient": "none", "legendX": 116, "legendY": 722.5, "direction": "horizontal", "title": null, "symbolType": "square", "symbolSize": 196, "symbolStrokeColor": "#1a1a1a", "symbolStrokeWidth": 1, "symbolOpacity": 1, "labelFontSize": 15, "labelOffset": 12, "columnPadding": 32, "padding": 13, "strokeColor": "#1a1a1a", "fillColor": "#ffffff", "labelColor": "#000"}}}},
    {"transform": [{"filter": "datum.v >= 0"}], "mark": {"type": "text", "baseline": "alphabetic", "dy": -6, "fontSize": 10, "color": "#333"}, "encoding": {"x": {"field": "w", "type": "nominal", "sort": ["Wk 12","Wk 24"], "axis": null}, "text": {"field": "l", "type": "nominal"}}},
    {"transform": [{"filter": "datum.v < 0"}], "mark": {"type": "text", "baseline": "top", "dy": 8, "fontSize": 10, "color": "#333"}, "encoding": {"x": {"field": "w", "type": "nominal", "sort": ["Wk 12","Wk 24"], "axis": {"orient": "bottom", "title": null, "labelAngle": 0, "domain": false, "ticks": false, "tickSize": 0, "labelPadding": 10, "labelFontSize": 15, "labelColor": "#000"}}, "text": {"field": "l", "type": "nominal"}}},
    {"transform": [{"filter": "datum.v < 0 && datum.s != ''"}], "mark": {"type": "text", "baseline": "middle", "dy": 35, "fontSize": 14, "color": "#222"}, "encoding": {"x": {"field": "w", "type": "nominal", "sort": ["Wk 12","Wk 24"], "axis": null}, "text": {"field": "s", "type": "nominal"}}}
   ],
   "resolve": {"axis": {"x": "independent"}}
  }
 ]}
]}
]
}
